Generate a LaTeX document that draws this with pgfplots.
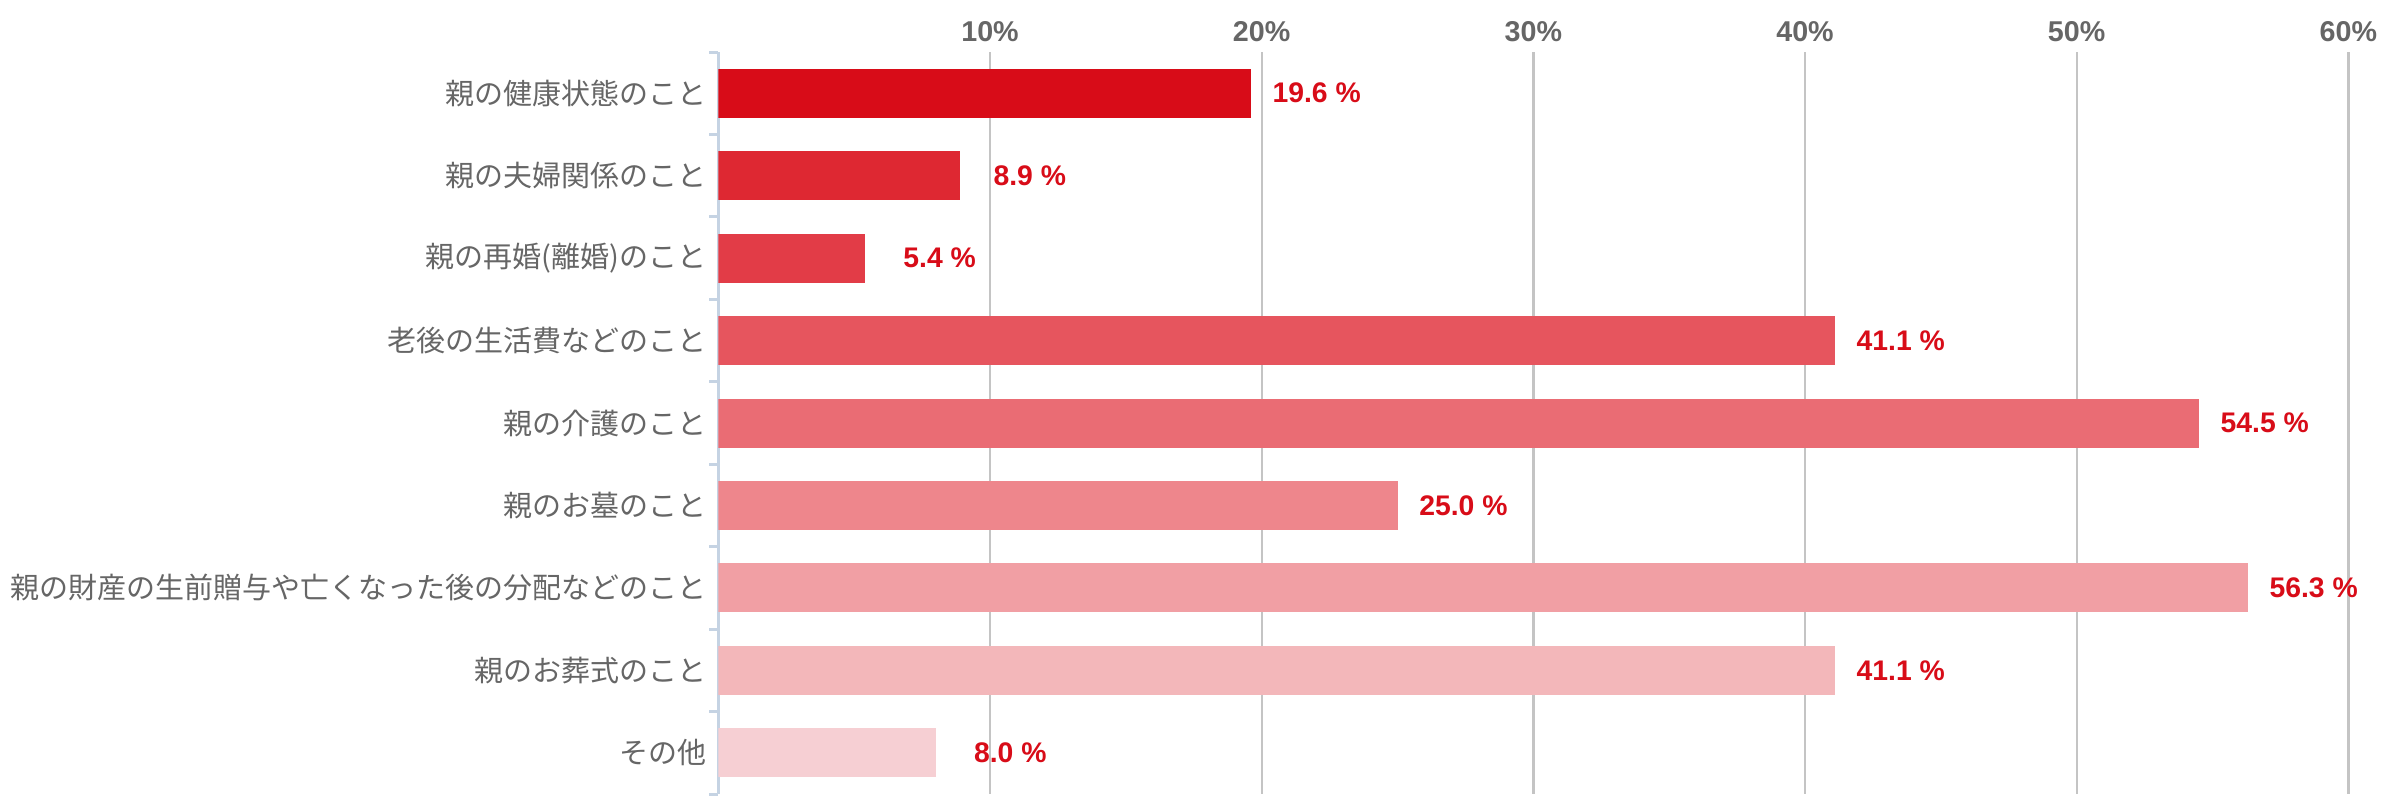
\documentclass[border=0pt]{standalone}
\usepackage{fontspec}
\setmainfont{Liberation Sans}
\newfontfamily\jp{Noto Sans CJK JP}
\usepackage{pgfplots}
\pgfplotsset{compat=1.18}

\definecolor{cA}{HTML}{D80C18}
\definecolor{cB}{HTML}{DE2832}
\definecolor{cC}{HTML}{E23C47}
\definecolor{cD}{HTML}{E6555E}
\definecolor{cE}{HTML}{EA6C74}
\definecolor{cF}{HTML}{EE868C}
\definecolor{cG}{HTML}{F19FA4}
\definecolor{cH}{HTML}{F3B7BA}
\definecolor{cI}{HTML}{F6CFD3}
\definecolor{valred}{HTML}{D80C18}
\definecolor{labgray}{HTML}{666666}
\definecolor{gridgray}{HTML}{C4C4C4}
\definecolor{axisblue}{HTML}{C5D3E3}

\begin{document}
\begin{tikzpicture}
% page: 2388 x 796 px at 0.3pt per px
\useasboundingbox (0,0) rectangle (716.4pt,-238.8pt);
\begin{axis}[
    at={(215.5pt,-15.6pt)}, anchor=north west,
    width=489pt, height=222.6pt, scale only axis,
    /pgf/number format/assume math mode=true,
    xbar, bar width=14.7pt, bar shift=0pt,
    xmin=0, xmax=60,
    ymin=-0.5, ymax=8.5, y dir=reverse,
    axis x line*=top, axis y line*=left,
    x axis line style={draw=none},
    y axis line style={draw=axisblue, line width=0.9pt},
    xtick={10,20,30,40,50,60},
    xticklabel={\pgfmathprintnumber{\tick}\%},
    xticklabel style={font=\bfseries\fontsize{8.6}{10}\selectfont, text=labgray, yshift=-0.5pt},
    xmajorgrids,
    major grid style={draw=gridgray, line width=0.7pt},
    ytick={0,...,8},
    yticklabels={親の健康状態のこと, 親の夫婦関係のこと, 親の再婚(離婚)のこと,
        老後の生活費などのこと, 親の介護のこと, 親のお墓のこと,
        親の財産の生前贈与や亡くなった後の分配などのこと, 親のお葬式のこと, その他},
    yticklabel style={font=\jp\fontsize{8.7}{10}\selectfont, text=labgray},
    minor ytick={-0.5,0.5,1.5,2.5,3.5,4.5,5.5,6.5,7.5,8.5},
    major tick length=0pt, minor tick length=2.7pt,
    tick align=outside,
    minor tick style={draw=axisblue, line width=0.9pt},
    point meta=x,
    nodes near coords={\pgfmathprintnumber[fixed,fixed zerofill,precision=1]{\pgfplotspointmeta}\ \%},
    nodes near coords style={font=\bfseries\fontsize{8.5}{10}\selectfont, text=valred, anchor=west, xshift=3pt},
]
\addplot[fill=cA, draw=none] coordinates {(19.6,0)};
\addplot[fill=cB, draw=none, every node near coord/.append style={xshift=3.5pt}] coordinates {(8.9,1)};
\addplot[fill=cC, draw=none, every node near coord/.append style={xshift=5pt}] coordinates {(5.4,2)};
\addplot[fill=cD, draw=none] coordinates {(41.1,3)};
\addplot[fill=cE, draw=none] coordinates {(54.5,4)};
\addplot[fill=cF, draw=none] coordinates {(25.0,5)};
\addplot[fill=cG, draw=none] coordinates {(56.3,6)};
\addplot[fill=cH, draw=none] coordinates {(41.1,7)};
\addplot[fill=cI, draw=none, every node near coord/.append style={xshift=5pt}] coordinates {(8.0,8)};
\end{axis}
\end{tikzpicture}
\end{document}
